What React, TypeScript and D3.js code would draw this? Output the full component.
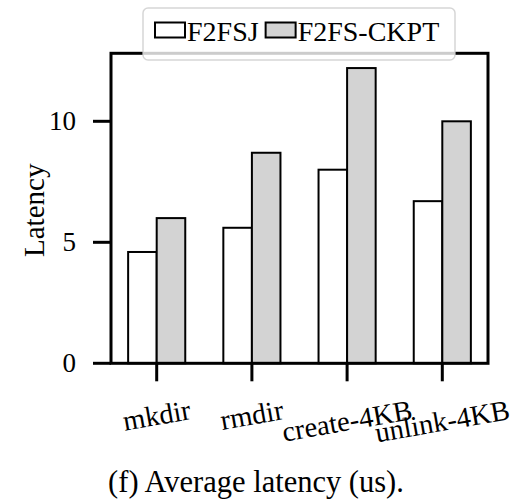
import React, { useEffect, useRef } from "react";
import * as d3 from "d3";

const categories = ["mkdir", "rmdir", "create-4KB", "unlink-4KB"];
const f2fsj = [4.6, 5.6, 8.0, 6.7];
const f2fsCkpt = [6.0, 8.7, 12.2, 10.0];
const yTicks = [0, 5, 10];
const seriesNames = ["F2FSJ", "F2FS-CKPT"];
const seriesFills = ["#ffffff", "#d3d3d3"];

const W = 513;
const H = 499;
const FONT = "'Liberation Serif', 'Times New Roman', serif";

export default function App() {
  const ref = useRef<SVGSVGElement | null>(null);

  useEffect(() => {
    const svg = d3.select(ref.current);
    svg.selectAll("*").remove();

    const left = 111, right = 488, top = 53.3, bottom = 363.3;
    const barW = 0.3;
    const n = categories.length;
    const pad = (n - 1 + 2 * barW) * 0.05;
    const x = d3.scaleLinear().domain([-barW - pad, n - 1 + barW + pad]).range([left, right]);
    const yMax = (d3.max(f2fsCkpt.concat(f2fsj)) as number) * 1.05;
    const y = d3.scaleLinear().domain([0, yMax]).range([bottom, top]);

    svg.append("rect").attr("width", W).attr("height", H).attr("fill", "#fff");

    const series = [f2fsj, f2fsCkpt];
    series.forEach((vals, s) => {
      svg.append("g")
        .selectAll("rect")
        .data(vals)
        .join("rect")
        .attr("x", (_d, i) => x(i + (s === 0 ? -barW : 0)))
        .attr("y", (d) => y(d))
        .attr("width", x(barW) - x(0))
        .attr("height", (d) => y(0) - y(d))
        .attr("fill", seriesFills[s])
        .attr("stroke", "#000")
        .attr("stroke-width", 2);
    });

    // spines
    svg.append("rect")
      .attr("x", left).attr("y", top)
      .attr("width", right - left).attr("height", bottom - top)
      .attr("fill", "none").attr("stroke", "#000").attr("stroke-width", 3);

    // y ticks
    const yg = svg.append("g");
    yTicks.forEach((t) => {
      yg.append("line")
        .attr("x1", left - 18).attr("x2", left)
        .attr("y1", y(t)).attr("y2", y(t))
        .attr("stroke", "#000").attr("stroke-width", 3);
      yg.append("text")
        .attr("x", left - 35).attr("y", y(t))
        .attr("text-anchor", "end").attr("dominant-baseline", "central")
        .attr("font-family", FONT).attr("font-size", 27)
        .text(String(t));
    });

    // x ticks
    const xg = svg.append("g");
    const ang = 10 * Math.PI / 180;
    const xfs = 28.5;
    categories.forEach((c, i) => {
      xg.append("line")
        .attr("x1", x(i)).attr("x2", x(i))
        .attr("y1", bottom).attr("y2", bottom + 18)
        .attr("stroke", "#000").attr("stroke-width", 3);
      const t = xg.append("text")
        .attr("text-anchor", "middle").attr("dominant-baseline", "central")
        .attr("font-family", FONT).attr("font-size", xfs)
        .text(c);
      const L = (t.node() as SVGTextElement).getComputedTextLength();
      const bh = L * Math.sin(ang) + xfs * 0.68 * Math.cos(ang);
      const cy = 400 + bh / 2;
      t.attr("transform", `translate(${x(i)},${cy}) rotate(-10)`);
    });

    // y label
    svg.append("text")
      .attr("transform", `translate(34,${(top + bottom) / 2 + 2}) rotate(-90)`)
      .attr("text-anchor", "middle").attr("dominant-baseline", "central")
      .attr("font-family", FONT).attr("font-size", 29)
      .text("Latency");

    // legend
    const lg = svg.append("g");
    lg.append("rect")
      .attr("x", 143).attr("y", 8).attr("width", 312).attr("height", 52)
      .attr("rx", 5).attr("ry", 5)
      .attr("fill", "rgba(255,255,255,0.8)")
      .attr("stroke", "rgba(204,204,204,0.8)").attr("stroke-width", 1.5);
    let cx = 155;
    seriesNames.forEach((name, s) => {
      lg.append("rect")
        .attr("x", cx).attr("y", 22.5).attr("width", 30).attr("height", 15)
        .attr("fill", seriesFills[s]).attr("stroke", "#000").attr("stroke-width", 2);
      const t = lg.append("text")
        .attr("x", cx + 32).attr("y", 41)
        .attr("font-family", FONT).attr("font-size", 28)
        .text(name);
      const L = (t.node() as SVGTextElement).getComputedTextLength();
      cx = cx + 32 + L + 7;
    });

    // caption
    svg.append("text")
      .attr("x", 256).attr("y", 492)
      .attr("text-anchor", "middle")
      .attr("font-family", FONT).attr("font-size", 30.5)
      .text("(f) Average latency (us).");
  }, []);

  return (
    <svg
      ref={ref}
      width={W}
      height={H}
      style={{ position: "absolute", left: 0, top: 0 }}
    />
  );
}
